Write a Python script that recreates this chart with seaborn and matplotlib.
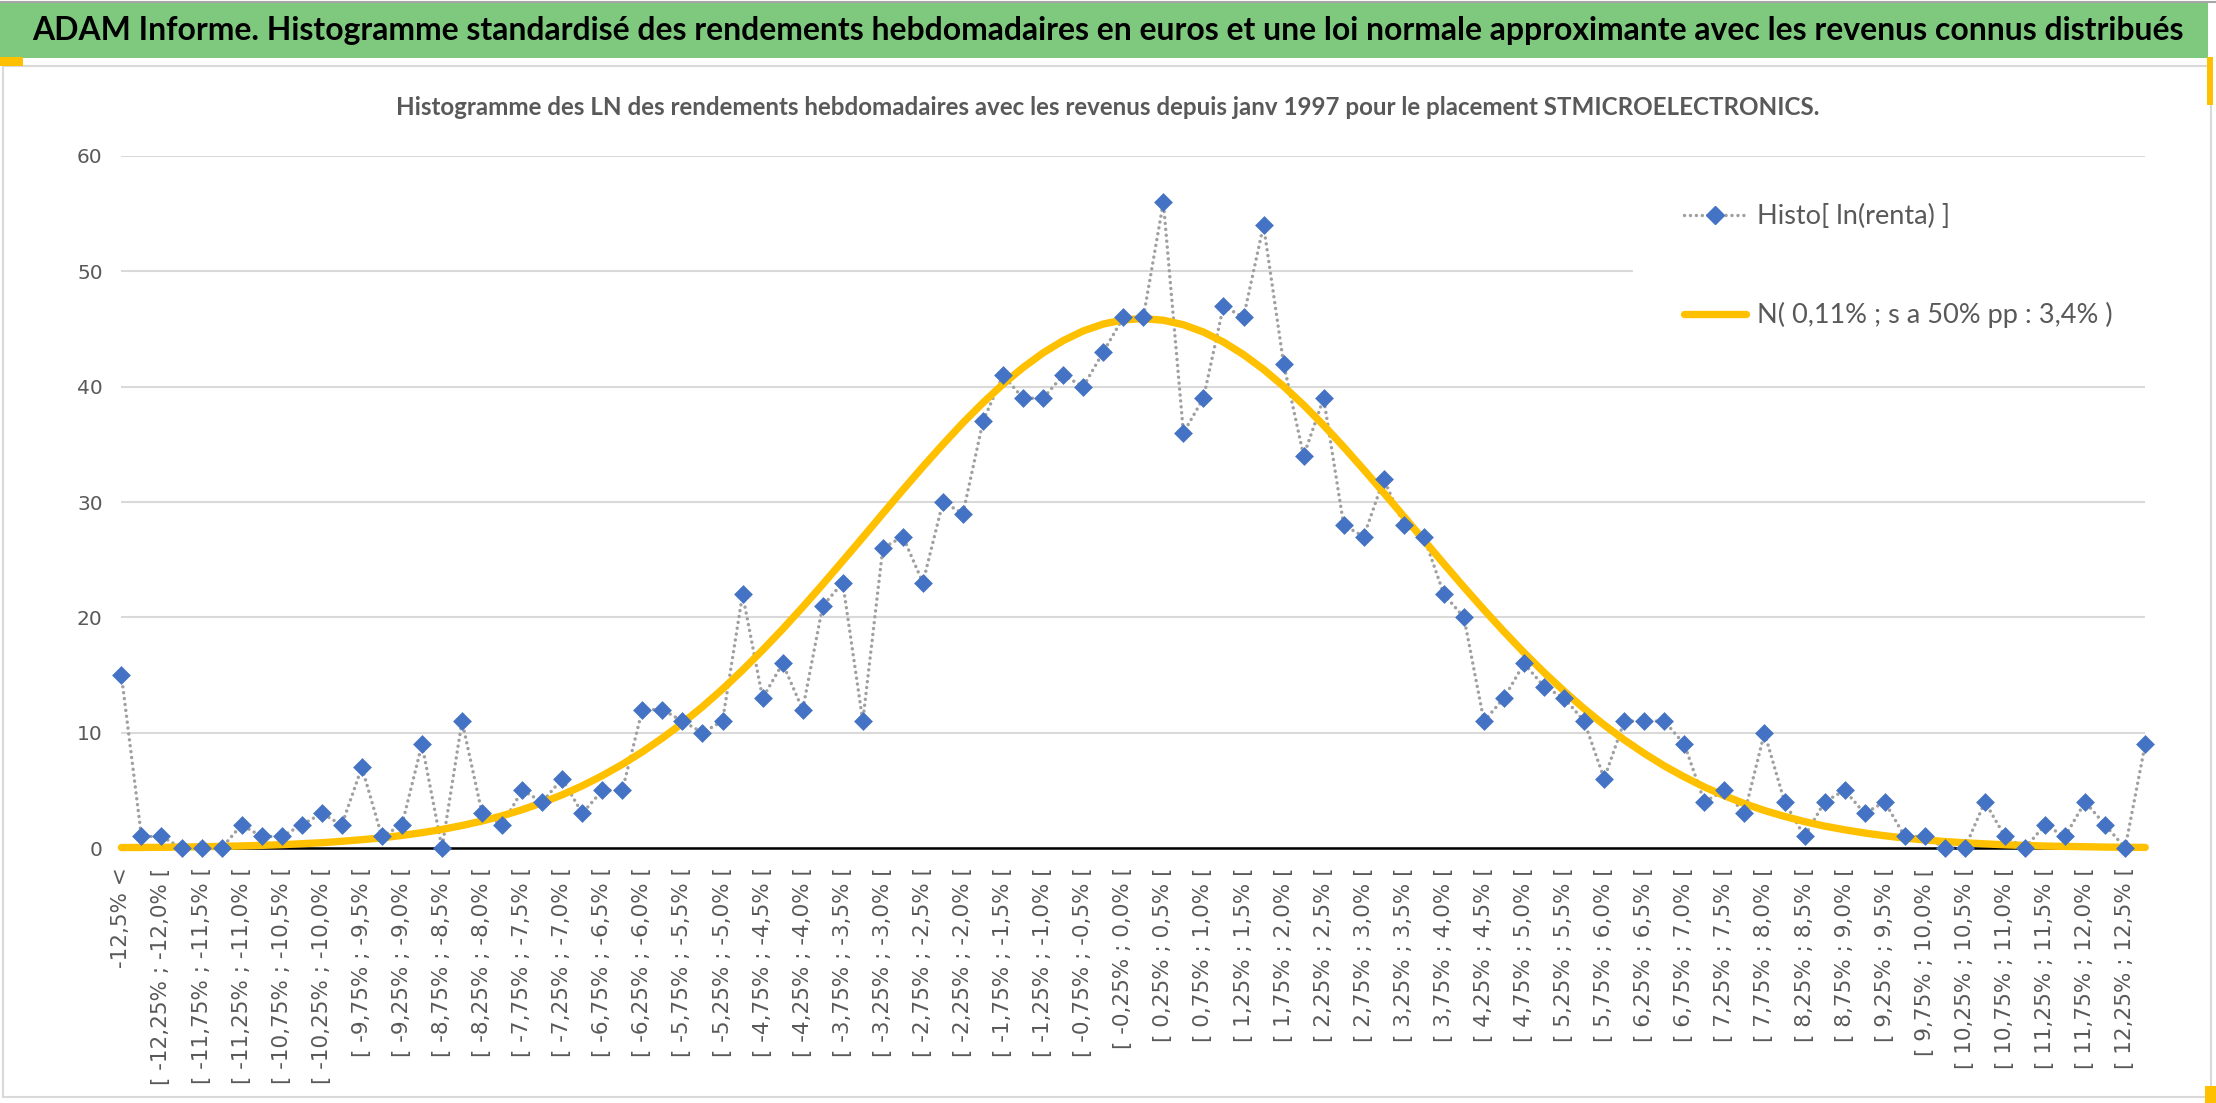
import matplotlib
matplotlib.use("Agg")
import matplotlib.pyplot as plt
from matplotlib.lines import Line2D
from matplotlib.patches import Rectangle
import pandas as pd
import seaborn as sns

title = ("ADAM Informe. Histogramme standardisé des rendements hebdomadaires en euros "
         "et une loi normale approximante avec les revenus connus distribués")
subtitle = ("Histogramme des LN des rendements hebdomadaires avec les revenus depuis "
            "janv 1997 pour le placement STMICROELECTRONICS.")
legend_labels = ["Histo[ ln(renta) ]", "N( 0,11% ; s a 50% pp : 3,4% )"]

# one label every second class, as on the original axis
tick_labels = [
    "-12,5% <",
    "[ -12,25% ; -12,0% [", "[ -11,75% ; -11,5% [", "[ -11,25% ; -11,0% [",
    "[ -10,75% ; -10,5% [", "[ -10,25% ; -10,0% [", "[ -9,75% ; -9,5% [",
    "[ -9,25% ; -9,0% [", "[ -8,75% ; -8,5% [", "[ -8,25% ; -8,0% [",
    "[ -7,75% ; -7,5% [", "[ -7,25% ; -7,0% [", "[ -6,75% ; -6,5% [",
    "[ -6,25% ; -6,0% [", "[ -5,75% ; -5,5% [", "[ -5,25% ; -5,0% [",
    "[ -4,75% ; -4,5% [", "[ -4,25% ; -4,0% [", "[ -3,75% ; -3,5% [",
    "[ -3,25% ; -3,0% [", "[ -2,75% ; -2,5% [", "[ -2,25% ; -2,0% [",
    "[ -1,75% ; -1,5% [", "[ -1,25% ; -1,0% [", "[ -0,75% ; -0,5% [",
    "[ -0,25% ; 0,0% [", "[ 0,25% ; 0,5% [", "[ 0,75% ; 1,0% [",
    "[ 1,25% ; 1,5% [", "[ 1,75% ; 2,0% [", "[ 2,25% ; 2,5% [",
    "[ 2,75% ; 3,0% [", "[ 3,25% ; 3,5% [", "[ 3,75% ; 4,0% [",
    "[ 4,25% ; 4,5% [", "[ 4,75% ; 5,0% [", "[ 5,25% ; 5,5% [",
    "[ 5,75% ; 6,0% [", "[ 6,25% ; 6,5% [", "[ 6,75% ; 7,0% [",
    "[ 7,25% ; 7,5% [", "[ 7,75% ; 8,0% [", "[ 8,25% ; 8,5% [",
    "[ 8,75% ; 9,0% [", "[ 9,25% ; 9,5% [", "[ 9,75% ; 10,0% [",
    "[ 10,25% ; 10,5% [", "[ 10,75% ; 11,0% [", "[ 11,25% ; 11,5% [",
    "[ 11,75% ; 12,0% [", "[ 12,25% ; 12,5% [",
]

# weekly counts per 0,25% class (102 classes incl. both open ends)
counts = [15, 1, 1, 0, 0, 0, 2, 1, 1, 2,
          3, 2, 7, 1, 2, 9, 0, 11, 3, 2,
          5, 4, 6, 3, 5, 5, 12, 12, 11, 10,
          11, 22, 13, 16, 12, 21, 23, 11, 26, 27,
          23, 30, 29, 37, 41, 39, 39, 41, 40, 43,
          46, 46, 56, 36, 39, 47, 46, 54, 42, 34,
          39, 28, 27, 32, 28, 27, 22, 20, 11, 13,
          16, 14, 13, 11, 6, 11, 11, 11, 9, 4,
          5, 3, 10, 4, 1, 4, 5, 3, 4, 1,
          1, 0, 0, 4, 1, 0, 2, 1, 4, 2,
          0, 9]

# approximating normal curve
normal_fit = [0.04, 0.05, 0.06, 0.08, 0.11, 0.14, 0.18, 0.23, 0.29, 0.37,
              0.46, 0.58, 0.72, 0.88, 1.09, 1.33, 1.61, 1.95, 2.34, 2.79,
              3.32, 3.93, 4.61, 5.39, 6.27, 7.25, 8.34, 9.53, 10.83, 12.25,
              13.78, 15.42, 17.16, 18.98, 20.89, 22.86, 24.89, 26.93, 29.00, 31.05,
              33.06, 35.00, 36.87, 38.61, 40.22, 41.66, 42.93, 43.99, 44.83, 45.43,
              45.79, 45.90, 45.76, 45.37, 44.74, 43.87, 42.78, 41.50, 40.03, 38.41,
              36.65, 34.77, 32.81, 30.80, 28.75, 26.69, 24.64, 22.62, 20.66, 18.76,
              16.94, 15.22, 13.60, 12.08, 10.67, 9.38, 8.20, 7.12, 6.16, 5.29,
              4.53, 3.85, 3.25, 2.74, 2.29, 1.90, 1.58, 1.30, 1.06, 0.86,
              0.70, 0.56, 0.45, 0.36, 0.28, 0.22, 0.17, 0.14, 0.11, 0.08,
              0.06, 0.05]

BLUE = "#4472C4"
GOLD = "#FFC000"
GREY_TXT = "#595959"
GRID = "#D9D9D9"
DOTS = (0, (0.01, 1.7))

sns.set_theme(style="white")
plt.rcParams["font.family"] = ["Lato", "DejaVu Sans"]

W, H = 2216, 1103
fig = plt.figure(figsize=(W / 100, H / 100), dpi=100, facecolor="white")

# frame, green banner and the little orange handles of the excel sheet
fig.add_artist(Rectangle((3 / W, 6 / H), 2208 / W, 1031 / H, transform=fig.transFigure,
                         fill=False, edgecolor=GRID, linewidth=1.5, zorder=0))
fig.add_artist(Rectangle((0, 1 - 58 / H), 2208 / W, 55 / H, transform=fig.transFigure,
                         facecolor="#7EC97E", edgecolor="none", zorder=0))
fig.add_artist(Line2D([0, 1], [1 - 1.5 / H, 1 - 1.5 / H], transform=fig.transFigure,
                      color="#A6A6A6", linewidth=1.5))
for x0, y0, w, h in [(0, 57, 23, 9), (2207, 57, 6, 48), (2205, 1086, 11, 17)]:
    fig.add_artist(Rectangle((x0 / W, 1 - (y0 + h) / H), w / W, h / H,
                             transform=fig.transFigure, facecolor=GOLD,
                             edgecolor="none", zorder=1))

t1 = fig.text(0.5, 1 - 40 / H, title, ha="center", va="baseline",
              fontsize=20, fontweight="bold", color="black")
t2 = fig.text(0.5, 1 - 115 / H, subtitle, ha="center", va="baseline",
              fontsize=15, fontweight="bold", color=GREY_TXT)
renderer = fig.canvas.get_renderer()
for t, target in [(t1, 2150), (t2, 1430)]:
    t.set_fontsize(t.get_fontsize() * target / t.get_window_extent(renderer).width)

ax = fig.add_axes([121.4 / W, 255 / H, 2023.8 / W, 692 / H])

df = pd.DataFrame({"pos": range(len(counts)), "count": counts, "fit": normal_fit})

sns.lineplot(data=df, x="pos", y="count", ax=ax, color="#A0A0A0", linewidth=2.5,
             linestyle=DOTS, dash_capstyle="round", zorder=2)
sns.lineplot(data=df, x="pos", y="fit", ax=ax, color=GOLD, linewidth=5.3,
             solid_capstyle="round", zorder=3, clip_on=False)
sns.scatterplot(data=df, x="pos", y="count", ax=ax, marker="D", s=92, color=BLUE,
                edgecolor=BLUE, linewidth=0, zorder=4, clip_on=False)

ax.set_xlim(0, 101)
ax.set_ylim(0, 60)
ax.set_xlabel("")
ax.set_ylabel("")
ax.set_axisbelow(True)

ax.set_yticks(range(0, 61, 10))
ax.set_yticklabels([str(v) for v in range(0, 61, 10)], family="DejaVu Sans",
                   fontsize=14.5, color=GREY_TXT)
ax.set_xticks(range(0, 101, 2))
ax.set_xticklabels(tick_labels, rotation=90, family="DejaVu Sans",
                   fontsize=15.5, color=GREY_TXT)
ax.set_xticks(range(0, 101, 4), minor=True)
ax.tick_params(axis="x", which="major", length=0, pad=14)
ax.tick_params(axis="x", which="minor", length=12, width=1.6, direction="inout",
               color="black")
ax.tick_params(axis="y", length=0, pad=13.5)

ax.grid(False)
ax.xaxis.grid(True, which="minor", color=GRID, linewidth=1.5)
ax.yaxis.grid(True, which="major", color=GRID, linewidth=1.5)
for side in ["top", "right", "left"]:
    ax.spines[side].set_visible(False)
ax.spines["bottom"].set_color("black")
ax.spines["bottom"].set_linewidth(1.8)

# white legend area hiding the grid
ax.add_patch(Rectangle((0.7469, 0.7012), 0.2531, 0.2858, transform=ax.transAxes,
                       facecolor="white", edgecolor="none", zorder=1))
handles = [
    Line2D([], [], color="#A0A0A0", linewidth=2.5, linestyle=DOTS, dash_capstyle="round",
           marker="D", markersize=9.6, markerfacecolor=BLUE, markeredgecolor=BLUE),
    Line2D([], [], color=GOLD, linewidth=5.3),
]
leg = ax.legend(handles, legend_labels, loc="upper left",
                bbox_to_anchor=(1684 / W, 1 - 204 / H), bbox_transform=fig.transFigure,
                frameon=False, fontsize=19.5, labelcolor=GREY_TXT, handlelength=2.3,
                handletextpad=0.4, labelspacing=2.7, borderaxespad=0, borderpad=0)
leg.set_zorder(5)

fig.savefig("out.png", dpi=100, facecolor="white")
